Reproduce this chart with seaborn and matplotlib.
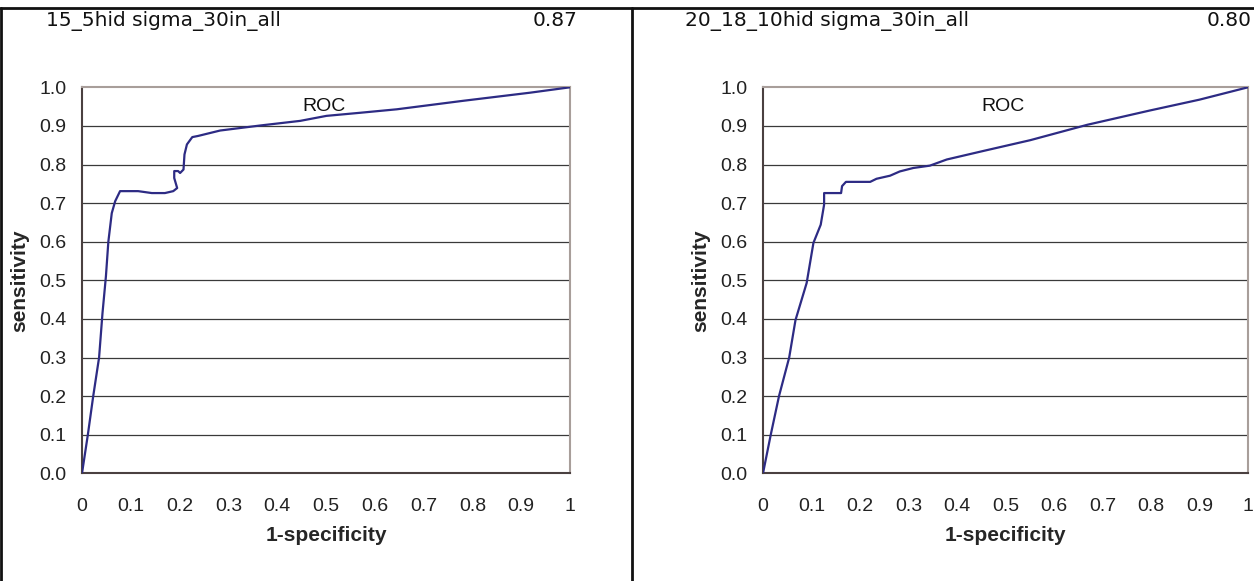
import matplotlib
matplotlib.use("Agg")
import matplotlib.pyplot as plt
from matplotlib.lines import Line2D
import seaborn as sns

# panel titles and AUC values
titles = ["15_5hid sigma_30in_all", "20_18_10hid sigma_30in_all"]
auc_labels = ["0.87", "0.80"]

# ROC curve, left panel
fpr_a = [0.0, 0.012, 0.023, 0.035, 0.042, 0.049, 0.054, 0.061, 0.068, 0.078,
         0.115, 0.143, 0.170, 0.187, 0.195, 0.189, 0.189, 0.197, 0.201, 0.208,
         0.210, 0.215, 0.226, 0.238, 0.283, 0.365, 0.447, 0.501, 0.570, 0.645,
         0.781, 0.918, 1.0]
tpr_a = [0.0, 0.10, 0.20, 0.30, 0.415, 0.51, 0.60, 0.674, 0.705, 0.731,
         0.731, 0.726, 0.726, 0.731, 0.739, 0.765, 0.783, 0.783, 0.778, 0.787,
         0.826, 0.852, 0.871, 0.874, 0.888, 0.901, 0.913, 0.926, 0.934, 0.943,
         0.965, 0.986, 1.0]

# ROC curve, right panel
fpr_b = [0.0, 0.016, 0.033, 0.054, 0.067, 0.090, 0.104, 0.119, 0.126, 0.126,
         0.161, 0.163, 0.171, 0.221, 0.234, 0.262, 0.282, 0.310, 0.344, 0.379,
         0.454, 0.551, 0.669, 0.798, 0.900, 1.0]
tpr_b = [0.0, 0.10, 0.20, 0.30, 0.397, 0.493, 0.597, 0.644, 0.696, 0.726,
         0.726, 0.744, 0.755, 0.755, 0.763, 0.771, 0.782, 0.791, 0.797, 0.813,
         0.835, 0.863, 0.903, 0.940, 0.968, 1.0]

xticks = [0, 0.1, 0.2, 0.3, 0.4, 0.5, 0.6, 0.7, 0.8, 0.9, 1]
xticklabels = ["0", "0.1", "0.2", "0.3", "0.4", "0.5", "0.6", "0.7", "0.8", "0.9", "1"]
yticks = [0.0, 0.1, 0.2, 0.3, 0.4, 0.5, 0.6, 0.7, 0.8, 0.9, 1.0]

sns.set_style("white")
plt.rcParams['font.family'] = ['Liberation Sans', 'DejaVu Sans']

fig = plt.figure(figsize=(12.54, 5.81), dpi=100)
ax1 = fig.add_axes([82 / 1254, 107.7 / 581, 488 / 1254, 386 / 581])
ax2 = fig.add_axes([763 / 1254, 107.7 / 581, 485 / 1254, 386 / 581])

for ax, fpr, tpr in [(ax1, fpr_a, tpr_a), (ax2, fpr_b, tpr_b)]:
    for yv in yticks[1:-1]:
        ax.axhline(yv, color="#3a3a3a", lw=0.9, zorder=1)
    sns.lineplot(x=fpr, y=tpr, sort=False, estimator=None, color="#2d2b84",
                 lw=1.6, ax=ax, zorder=3)
    ax.set_xlim(0, 1)
    ax.set_ylim(0, 1)
    ax.set_xticks(xticks)
    ax.set_xticklabels(xticklabels)
    ax.set_yticks(yticks)
    ax.set_yticklabels([f"{v:.1f}" for v in yticks])
    ax.tick_params(axis="both", direction="out", length=5, width=1,
                   color="#555555", labelsize=14, labelcolor="#222222", pad=6)
    ax.tick_params(axis="x", pad=13)
    ax.spines["left"].set_color("#4a4040")
    ax.spines["bottom"].set_color("#4a4040")
    ax.spines["top"].set_color("#a89e9a")
    ax.spines["right"].set_color("#a89e9a")
    for s in ax.spines.values():
        s.set_linewidth(1.5)
    ax.set_xlabel("1-specificity", fontsize=15, fontweight="bold", labelpad=8)
    ax.set_ylabel("sensitivity", fontsize=15, fontweight="bold", labelpad=7)
    ax.text(0.495, 0.95, "ROC", ha="center", va="center", fontsize=14,
            color="#111111")

# titles
ty = 1 - 21 / 581
fig.text(46 / 1254, ty, titles[0], ha="left", va="center",
         fontsize=14.5, family="DejaVu Sans", color="#111111")
fig.text(578 / 1254, ty, auc_labels[0], ha="right", va="center",
         fontsize=14.5, family="DejaVu Sans", color="#111111")
fig.text(685 / 1254, ty, titles[1], ha="left", va="center",
         fontsize=14.5, family="DejaVu Sans", color="#111111")
fig.text(1252 / 1254, ty, auc_labels[1], ha="right", va="center",
         fontsize=14.5, family="DejaVu Sans", color="#111111")

# frame lines of the table
fig.add_artist(Line2D([0, 1], [1 - 8 / 581, 1 - 8 / 581], color="#111111", lw=2,
                      transform=fig.transFigure))
fig.add_artist(Line2D([632 / 1254, 632 / 1254], [0, 1 - 8 / 581], color="#111111",
                      lw=2, transform=fig.transFigure))
fig.add_artist(Line2D([0.5 / 1254, 0.5 / 1254], [0, 1 - 8 / 581], color="#111111",
                      lw=2, transform=fig.transFigure))

fig.savefig("out.png", dpi=100)
